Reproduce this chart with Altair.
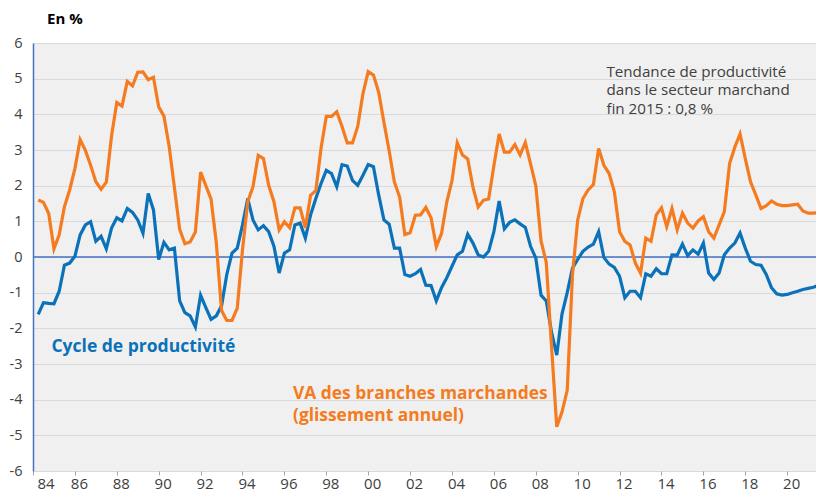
import altair as alt
import pandas as pd

ORANGE = "#f47b20"
BLUE = "#0b72b9"
AXIS_BLUE = "#4472c4"
TEXT_GREY = "#404040"

# Quarterly series, 1984 Q2 (plotted at 1984.25) to 2021 Q4 (plotted at 2021.75)
va_branches = [
    1.6, 1.53, 1.22,
    0.23, 0.62, 1.41, 1.88,
    2.48, 3.29, 2.99, 2.57,
    2.11, 1.9, 2.1, 3.4,
    4.33, 4.23, 4.92, 4.8,
    5.18, 5.19, 4.97, 5.04,
    4.21, 3.95, 3.1, 1.95,
    0.78, 0.37, 0.42, 0.7,
    2.38, 2.0, 1.62, 0.4,
    -1.5, -1.78, -1.78, -1.43,
    0.2, 1.55, 1.97, 2.85,
    2.76, 2.01, 1.55, 0.76,
    0.99, 0.82, 1.38, 1.38,
    0.82, 1.73, 1.86, 3.05,
    3.94, 3.94, 4.07, 3.66,
    3.2, 3.2, 3.66, 4.58,
    5.2, 5.1, 4.62, 3.78,
    2.98, 2.1, 1.68, 0.63,
    0.68, 1.17, 1.18, 1.39,
    1.1, 0.29, 0.66, 1.54,
    2.14, 3.2, 2.86, 2.75,
    1.96, 1.4, 1.59, 1.63,
    2.56, 3.45, 2.94, 2.94,
    3.15, 2.86, 3.21, 2.61,
    2.0, 0.45, -0.15, -2.5,
    -4.76, -4.35, -3.74, -0.5,
    1.04, 1.64, 1.88, 2.03,
    3.04, 2.57, 2.34, 1.83,
    0.71, 0.44, 0.34, -0.17,
    -0.45, 0.53, 0.44, 1.18,
    1.38, 0.85, 1.36, 0.76,
    1.23, 0.95, 0.81, 1.01,
    1.13, 0.71, 0.53, 0.9,
    1.27, 2.62, 3.08, 3.45,
    2.76, 2.11, 1.74, 1.36,
    1.44, 1.57, 1.48, 1.44,
    1.44, 1.46, 1.48, 1.29,
    1.23, 1.23, 1.25, 1.29,
]

cycle_productivite = [
    -1.61, -1.28, -1.3,
    -1.31, -0.96, -0.23, -0.17,
    0.02, 0.62, 0.9, 0.99,
    0.44, 0.58, 0.23, 0.81,
    1.1, 1.01, 1.36, 1.25,
    1.04, 0.67, 1.78, 1.32,
    -0.07, 0.41, 0.2, 0.25,
    -1.23, -1.56, -1.65, -1.96,
    -1.07, -1.42, -1.75, -1.65,
    -1.37, -0.49, 0.11, 0.25,
    0.9, 1.64, 1.04, 0.76,
    0.88, 0.71, 0.3, -0.45,
    0.11, 0.2, 0.9, 0.95,
    0.53, 1.18, 1.64, 2.06,
    2.43, 2.34, 1.97, 2.59,
    2.55, 2.15, 2.01, 2.29,
    2.59, 2.53, 1.74, 1.04,
    0.92, 0.25, 0.25, -0.49,
    -0.54, -0.47, -0.35, -0.79,
    -0.8, -1.23, -0.86, -0.58,
    -0.26, 0.06, 0.16, 0.64,
    0.39, 0.06, 0.0, 0.16,
    0.71, 1.57, 0.79, 0.97,
    1.04, 0.93, 0.83, 0.3,
    -0.03, -1.07, -1.23, -2.1,
    -2.75, -1.6, -1.0, -0.31,
    -0.07, 0.16, 0.28, 0.36,
    0.71, -0.01, -0.2, -0.29,
    -0.54, -1.14, -0.96, -0.96,
    -1.14, -0.47, -0.54, -0.33,
    -0.47, -0.47, 0.06, 0.05,
    0.36, 0.04, 0.2, 0.08,
    0.39, -0.45, -0.63, -0.45,
    0.06, 0.25, 0.39, 0.67,
    0.25, -0.12, -0.21, -0.23,
    -0.49, -0.86, -1.03, -1.07,
    -1.05, -1.0, -0.96, -0.91,
    -0.88, -0.85, -0.79, -0.74,
]

quarters = [1984.25 + 0.25 * i for i in range(len(va_branches))]
x_tick_years = list(range(1984, 2021, 2))
y_ticks = list(range(-6, 7))

df = pd.DataFrame({"t": quarters, "va": va_branches, "cycle": cycle_productivite})

# visible window ends near 2021.4 (the reference picture is cut at its right edge)
x_scale = alt.Scale(domain=[1984, 2021.375], nice=False, zero=False)
y_scale = alt.Scale(domain=[-6, 6], nice=False, zero=False)

x_axis = alt.Axis(
    values=x_tick_years,
    labelExpr="substring(toString(datum.value), 2, 4)",
    domain=False, grid=False, ticks=True, tickSize=4, tickColor="#a6a6a6",
    labelOffset=4, labelPadding=1, labelFontSize=15, labelColor=TEXT_GREY,
    title=None,
)
y_axis = alt.Axis(
    values=y_ticks,
    labelExpr="toString(datum.value)",
    grid=True, gridColor="#d9d9d9", gridWidth=1,
    domain=True, domainColor=AXIS_BLUE, domainWidth=1.5,
    ticks=False, labelPadding=11, labelFontSize=14.5, labelColor=TEXT_GREY,
    title=None,
)


def X(field):
    return alt.X(field, scale=x_scale, axis=x_axis, title=None)


def Y(field):
    return alt.Y(field, scale=y_scale, axis=y_axis, title=None)


base = alt.Chart(df)

zero = alt.Chart(pd.DataFrame({"t": [1984, 2021.75], "v": [0, 0]})).mark_line(
    color=AXIS_BLUE, strokeWidth=1.5, clip=True
).encode(x=X("t:Q"), y=Y("v:Q"))

blue_line = base.mark_line(color=BLUE, strokeWidth=3.2, clip=True).encode(x=X("t:Q"), y=Y("cycle:Q"))
orange_line = base.mark_line(color=ORANGE, strokeWidth=3.2, clip=True).encode(x=X("t:Q"), y=Y("va:Q"))

ann_cycle = pd.DataFrame({"t": [1984.88], "v": [-2.52], "label": ["Cycle de productivité"]})
ann_va = pd.DataFrame({"t": [1996.41, 1996.41], "v": [-3.85, -4.46],
                       "label": ["VA des branches marchandes", "(glissement annuel)"]})
ann_trend = pd.DataFrame({"t": [2011.37] * 3, "v": [5.2, 4.67, 4.14],
                          "label": ["Tendance de productivité", "dans le secteur marchand", "fin 2015 : 0,8 %"]})

t_cycle = alt.Chart(ann_cycle).mark_text(align="left", baseline="middle", fontSize=17.5,
                                          fontWeight="bold", color=BLUE).encode(
    x=X("t:Q"), y=Y("v:Q"), text="label:N")
t_va = alt.Chart(ann_va).mark_text(align="left", baseline="middle", fontSize=17.4,
                                    fontWeight="bold", color=ORANGE).encode(
    x=X("t:Q"), y=Y("v:Q"), text="label:N")
t_trend = alt.Chart(ann_trend).mark_text(align="left", baseline="middle", fontSize=15.2,
                                          color=TEXT_GREY).encode(
    x=X("t:Q"), y=Y("v:Q"), text="label:N")

unit = alt.Chart(pd.DataFrame({"label": ["En %"]})).mark_text(
    align="left", baseline="middle", fontSize=15, fontWeight="bold", color="#000000"
).encode(x=alt.value(14), y=alt.value(-24), text="label:N")

chart = alt.layer(zero, blue_line, orange_line, t_cycle, t_va, t_trend, unit).properties(
    width=783, height=428,
    autosize=alt.AutoSizeParams(type="none"),
    padding={"left": 25, "top": 35, "right": 0, "bottom": 24},
).configure(font="Open Sans").configure_view(fill="#f0f0f0", strokeWidth=0)

chart.save("out.html", embed_options={"renderer": "svg", "actions": False})
